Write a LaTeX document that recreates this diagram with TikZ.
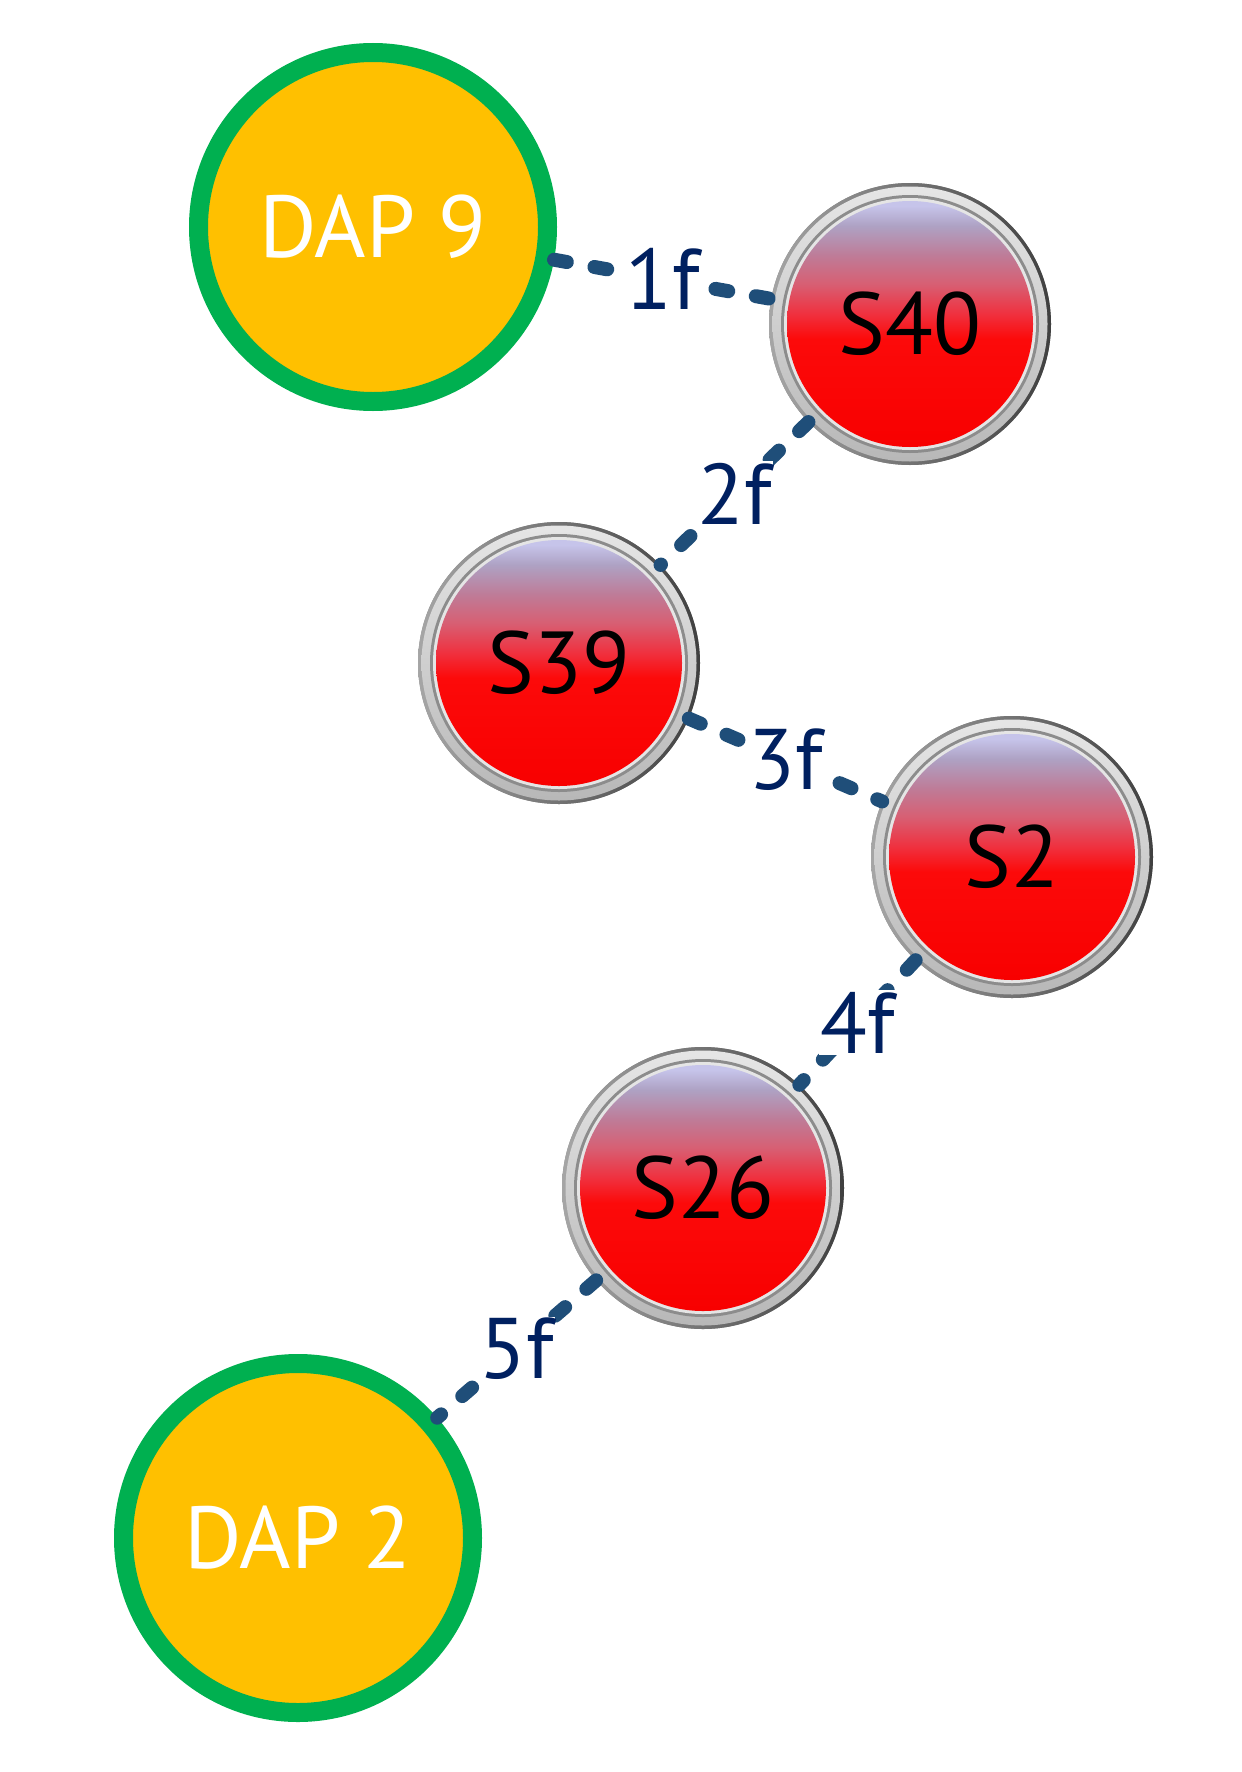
\documentclass[tikz,border=0pt]{standalone}
\usepackage{fontspec}
\setmainfont{PT Sans}
\definecolor{dapgreen}{HTML}{00B050}
\definecolor{dapyellow}{HTML}{FFC000}
\definecolor{connblue}{HTML}{1F4E79}
\definecolor{lblblue}{HTML}{002060}
\definecolor{btntop}{HTML}{C6C4EA}
\definecolor{btnlav}{HTML}{AEA2C4}
\definecolor{btnmauve}{HTML}{BE7C98}
\definecolor{btnpink}{HTML}{D85E72}
\definecolor{btnred1}{HTML}{F0303E}
\definecolor{btnred2}{HTML}{FC0A0A}
\definecolor{btnbot}{HTML}{F80000}
\pgfdeclareverticalshading{btnshade}{100bp}{color(0bp)=(btnbot); color(25bp)=(btnbot); color(47bp)=(btnred2); color(52bp)=(btnred1); color(58bp)=(btnpink); color(64bp)=(btnmauve); color(70bp)=(btnlav); color(74bp)=(btntop); color(75bp)=(btntop); color(100bp)=(btntop)}
\tikzset{
  dapnode/.style={circle, minimum size=349pt, inner sep=0pt, draw=dapgreen, line width=19pt, fill=dapyellow, text=white, font=\fontsize{88}{90}\selectfont},
  snode/.style={circle, minimum size=282pt, inner sep=0pt, fill=black!45, text=black, font=\fontsize{88}{90}\selectfont,
    path picture={
      \coordinate (pc) at (path picture bounding box.center);
      \shade[left color=black!35, right color=black!75] (pc) circle (141pt);
      \shade[top color=black!10, bottom color=black!28] (pc) circle (137.5pt);
      \fill[black!45] (pc) circle (129pt);
      \fill[black!10] (pc) circle (126pt);
      \shade[shading=btnshade] (pc) circle (123pt);
    }},
  conn/.style={draw=connblue, line width=14pt, line cap=round, dash pattern=on 13pt off 28pt},
  lbl/.style={fill=white, inner sep=1.5pt, text=lblblue, font=\fontsize{86}{88}\selectfont}
}
\begin{document}
\begin{tikzpicture}[x=1pt, y=-1pt]
  \fill[white] (0,0) rectangle (1242,1772);
  \useasboundingbox (0,0) rectangle (1242,1772);
  \node[dapnode] (dap9) at (373,227) {DAP 9};
  \node[snode] (s40) at (910,324) {S40};
  \node[snode] (s39) at (559,663) {S39};
  \node[snode] (s2) at (1012,857) {S2};
  \node[snode] (s26) at (703,1188) {S26};
  \node[dapnode] (dap2) at (298,1538) {DAP 2};
  \draw[conn] (dap9) -- node[lbl] {1f} (s40);
  \draw[conn] (s40) -- node[lbl] {2f} (s39);
  \draw[conn] (s39) -- node[lbl] {3f} (s2);
  \draw[conn] (s2) -- node[lbl] {4f} (s26);
  \draw[conn] (s26) -- node[lbl] {5f} (dap2);
\end{tikzpicture}
\end{document}
